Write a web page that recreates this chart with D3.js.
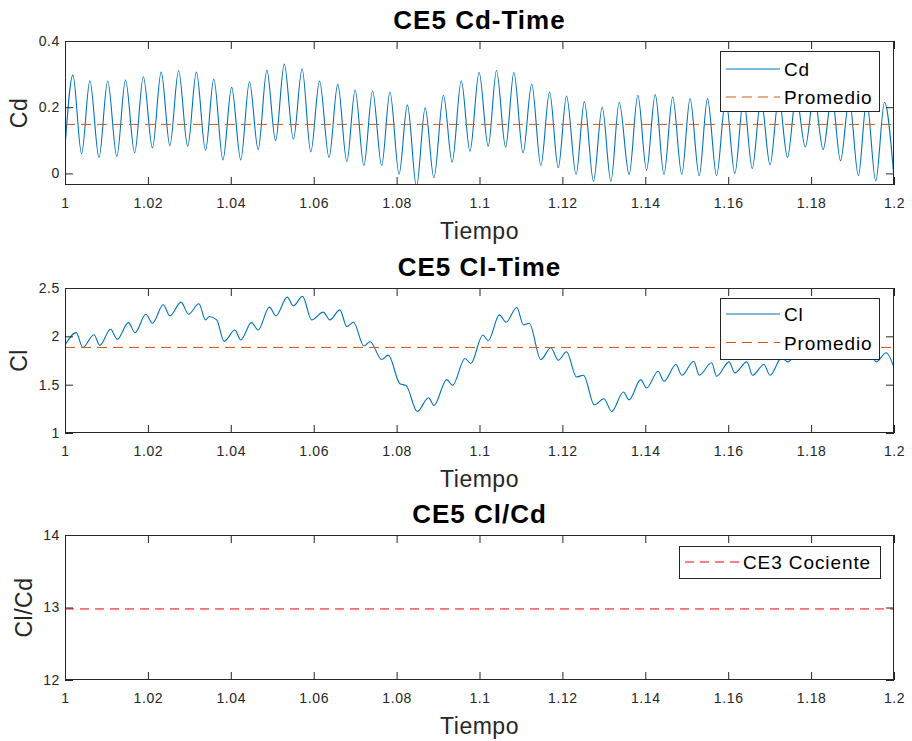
<!DOCTYPE html>
<html><head><meta charset="utf-8">
<script src="https://cdn.jsdelivr.net/npm/d3@7"></script>
<style>
body{margin:0;background:#fff}
svg{display:block}
text{font-family:"Liberation Sans",Arial,Helvetica,sans-serif}
</style>
</head><body>
<svg id="chart" width="912" height="741"></svg>
<script>
// ---------------- DATA ----------------
const xTicks = [1, 1.02, 1.04, 1.06, 1.08, 1.1, 1.12, 1.14, 1.16, 1.18, 1.2];
const xTickLabels = ["1","1.02","1.04","1.06","1.08","1.1","1.12","1.14","1.16","1.18","1.2"];

const cdTicks = [0, 0.2, 0.4];
const cdTickLabels = ["0","0.2","0.4"];
const clTicks = [1, 1.5, 2, 2.5];
const clTickLabels = ["1","1.5","2","2.5"];
const ratioTicks = [12, 13, 14];
const ratioTickLabels = ["12","13","14"];

// Cd: successive crests and troughs
const cdTime = [1.0000,1.0019,1.0040,1.0060,1.0082,1.0103,1.0125,1.0146,1.0168,1.0189,
  1.0211,1.0232,1.0253,1.0274,1.0296,1.0317,1.0339,1.0359,1.0381,1.0402,
  1.0424,1.0445,1.0466,1.0487,1.0508,1.0529,1.0551,1.0572,1.0593,1.0614,
  1.0637,1.0658,1.0680,1.0700,1.0721,1.0742,1.0764,1.0784,1.0806,1.0826,
  1.0848,1.0869,1.0890,1.0913,1.0934,1.0956,1.0977,1.0999,1.1021,1.1041,
  1.1063,1.1083,1.1105,1.1126,1.1148,1.1169,1.1190,1.1210,1.1233,1.1253,
  1.1275,1.1296,1.1317,1.1337,1.1361,1.1382,1.1403,1.1424,1.1445,1.1466,
  1.1488,1.1508,1.1530,1.1550,1.1572,1.1594,1.1616,1.1637,1.1658,1.1679,
  1.1701,1.1722,1.1743,1.1764,1.1786,1.1807,1.1829,1.1850,1.1871,1.1892,
  1.1914,1.1934,1.1956,1.1977,1.2000];
const cdValues = [0.077,0.297,0.059,0.280,0.048,0.279,0.051,0.282,0.062,0.292,
  0.077,0.306,0.084,0.311,0.082,0.306,0.070,0.285,0.041,0.260,
  0.041,0.277,0.072,0.312,0.099,0.330,0.103,0.316,0.065,0.279,
  0.048,0.269,0.036,0.252,0.024,0.249,0.024,0.246,-0.002,0.207,
  -0.040,0.198,-0.013,0.236,0.034,0.280,0.067,0.305,0.082,0.311,
  0.079,0.305,0.062,0.270,0.024,0.246,0.017,0.234,-0.003,0.217,
  -0.024,0.200,-0.024,0.215,-0.003,0.236,0.010,0.238,-0.003,0.231,
  -0.003,0.226,-0.007,0.226,-0.007,0.225,0.000,0.225,0.015,0.225,
  0.026,0.230,0.048,0.235,0.080,0.240,0.072,0.235,0.038,0.225,
  -0.007,0.220,-0.023,0.215,-0.015];
const cdMean = 0.148;

// Cl: ripple crests and troughs
const clTime = [1.0000,1.0027,1.0043,1.0070,1.0084,1.0110,1.0126,1.0153,1.0169,1.0195,
  1.0211,1.0237,1.0253,1.0280,1.0298,1.0323,1.0339,1.0348,1.0366,1.0384,
  1.0410,1.0424,1.0450,1.0466,1.0493,1.0509,1.0536,1.0551,1.0573,1.0595,
  1.0623,1.0639,1.0663,1.0680,1.0696,1.0721,1.0736,1.0764,1.0780,1.0808,
  1.0823,1.0850,1.0877,1.0890,1.0921,1.0935,1.0965,1.0979,1.1008,1.1021,
  1.1048,1.1064,1.1090,1.1106,1.1120,1.1148,1.1172,1.1190,1.1210,1.1234,
  1.1251,1.1277,1.1300,1.1319,1.1347,1.1361,1.1389,1.1403,1.1431,1.1445,
  1.1474,1.1488,1.1517,1.1530,1.1560,1.1572,1.1602,1.1616,1.1645,1.1659,
  1.1686,1.1701,1.1729,1.1743,1.1771,1.1786,1.1813,1.1829,1.1856,1.1871,
  1.1899,1.1914,1.1939,1.1957,1.1981,1.2000];
const clValues = [1.910,2.038,1.885,2.017,1.906,2.073,1.969,2.142,2.038,2.229,
  2.135,2.326,2.212,2.354,2.229,2.337,2.170,2.205,2.170,1.948,
  2.066,1.962,2.142,2.066,2.302,2.212,2.406,2.316,2.413,2.170,
  2.250,2.170,2.274,2.100,2.146,1.900,1.944,1.760,1.806,1.510,
  1.490,1.222,1.365,1.285,1.552,1.493,1.771,1.719,2.014,1.955,
  2.222,2.146,2.299,2.118,2.135,1.760,1.882,1.753,1.840,1.580,
  1.597,1.292,1.354,1.222,1.424,1.344,1.552,1.465,1.639,1.535,
  1.708,1.597,1.743,1.597,1.726,1.587,1.736,1.622,1.736,1.597,
  1.708,1.597,1.780,1.736,1.830,1.760,1.850,1.770,1.860,1.780,
  1.860,1.780,1.850,1.736,1.830,1.677];
const clMean = 1.885;

const ratioValue = 12.98;

// ---------------- DRAWING ----------------
const W = 912, H = 741;
const FONT = '"Liberation Sans", Arial, Helvetica, sans-serif';
const AX = "#262626";
const svg = d3.select("#chart");
svg.append("rect").attr("width", W).attr("height", H).attr("fill", "#fff");

const L = 65, R = 894;
const x = d3.scaleLinear().domain([1, 1.2]).range([L, R]);

function zipSeries(t, v) { return t.map((d, i) => [d, v[i]]); }

function panel(o) {
  const y = d3.scaleLinear().domain(o.yDomain).range([o.bottom, o.top]);
  const g = svg.append("g");
  const cid = "clip" + o.id;
  svg.append("clipPath").attr("id", cid).append("rect")
    .attr("x", L).attr("y", o.top).attr("width", R - L).attr("height", o.bottom - o.top);

  const plot = g.append("g").attr("clip-path", `url(#${cid})`);
  o.series.forEach(s => {
    const line = d3.line().x(d => x(d[0])).y(d => y(d[1])).curve(s.curve || d3.curveLinear);
    plot.append("path").attr("d", line(s.data)).attr("fill", "none")
      .attr("stroke", s.color).attr("stroke-width", s.width)
      .attr("stroke-dasharray", s.dash || null);
  });

  function styleAxis(sel) {
    sel.select(".domain").remove();
    sel.attr("font-size", null).attr("font-family", null);
    sel.selectAll(".tick line").attr("stroke", AX).attr("stroke-width", 1);
    sel.selectAll(".tick text").attr("fill", AX).style("font-family", FONT)
      .style("font-size", "14px").style("letter-spacing", "0.6px");
  }
  // bottom
  g.append("g").attr("transform", `translate(0,${o.bottom})`)
    .call(d3.axisBottom(x).tickValues(xTicks).tickFormat((d, i) => xTickLabels[i]).tickSize(-8).tickPadding(13))
    .call(styleAxis);
  // top
  g.append("g").attr("transform", `translate(0,${o.top})`)
    .call(d3.axisTop(x).tickValues(xTicks).tickFormat("").tickSize(-8))
    .call(styleAxis);
  // left
  g.append("g").attr("transform", `translate(${L},0)`)
    .call(d3.axisLeft(y).tickValues(o.yTicks).tickFormat((d, i) => o.yTickLabels[i]).tickSize(-8).tickPadding(5))
    .call(styleAxis);
  // right
  g.append("g").attr("transform", `translate(${R},0)`)
    .call(d3.axisRight(y).tickValues(o.yTicks).tickFormat("").tickSize(-8))
    .call(styleAxis);

  // box
  g.append("rect").attr("x", L + 0.5).attr("y", o.top + 0.5)
    .attr("width", R - L - 1).attr("height", o.bottom - o.top - 1)
    .attr("fill", "none").attr("stroke", AX).attr("stroke-width", 1);

  // title
  g.append("text").attr("x", (L + R) / 2).attr("y", o.top - 12)
    .attr("text-anchor", "middle").attr("font-weight", "bold")
    .style("font-size", "26px").style("letter-spacing", "1px").attr("fill", "#000")
    .text(o.title);
  // x label
  g.append("text").attr("x", (L + R) / 2).attr("y", o.bottom + 54)
    .attr("text-anchor", "middle").style("font-size", "23px").style("letter-spacing", "0.5px")
    .attr("fill", AX).text("Tiempo");
  // y label
  g.append("text").attr("transform", `translate(${o.ylabelX},${(o.top + o.bottom) / 2}) rotate(-90)`)
    .attr("text-anchor", "middle").style("font-size", "23px").style("letter-spacing", "0.5px")
    .attr("fill", AX).text(o.ylabel);

  // legend
  const lg = o.legend;
  const leg = g.append("g");
  leg.append("rect").attr("x", lg.x + 0.5).attr("y", lg.y + 0.5).attr("width", lg.w).attr("height", lg.h)
    .attr("fill", "#fff").attr("stroke", AX).attr("stroke-width", 1);
  lg.items.forEach((it, i) => {
    const cy = lg.y + lg.first + i * lg.step;
    leg.append("line").attr("x1", lg.x + lg.lineX0).attr("x2", lg.x + lg.lineX1)
      .attr("y1", cy).attr("y2", cy).attr("stroke", it.color).attr("stroke-width", 1)
      .attr("stroke-dasharray", it.dash || null);
    leg.append("text").attr("x", lg.x + lg.textX).attr("y", cy + 7)
      .style("font-size", "19px").style("letter-spacing", "0.9px").attr("fill", "#000").text(it.label);
  });
}

const blue = "#0072BD", orange = "#D95319", red = "#FF0000";

panel({
  id: "cd", top: 41, bottom: 185, yDomain: [-0.035, 0.4],
  yTicks: cdTicks, yTickLabels: cdTickLabels,
  title: "CE5 Cd-Time", ylabel: "Cd", ylabelX: 27,
  series: [
    { data: zipSeries(cdTime, cdValues), color: blue, width: 1.1, curve: d3.curveMonotoneX },
    { data: [[xTicks[0], cdMean], [xTicks[xTicks.length - 1], cdMean]], color: orange, width: 1, dash: "10,6" }
  ],
  legend: { x: 720, y: 51, w: 159, h: 60, first: 18, step: 28, lineX0: 6, lineX1: 60, textX: 64,
    items: [{ label: "Cd", color: blue }, { label: "Promedio", color: orange, dash: "10,6" }] }
});

panel({
  id: "cl", top: 288, bottom: 433, yDomain: [1, 2.5],
  yTicks: clTicks, yTickLabels: clTickLabels,
  title: "CE5 Cl-Time", ylabel: "Cl", ylabelX: 27,
  series: [
    { data: zipSeries(clTime, clValues), color: blue, width: 1.1, curve: d3.curveMonotoneX },
    { data: [[xTicks[0], clMean], [xTicks[xTicks.length - 1], clMean]], color: orange, width: 1, dash: "10,6" }
  ],
  legend: { x: 720, y: 298, w: 159, h: 61, first: 16, step: 28.5, lineX0: 6, lineX1: 60, textX: 64,
    items: [{ label: "Cl", color: blue }, { label: "Promedio", color: orange, dash: "10,6" }] }
});

panel({
  id: "ratio", top: 535, bottom: 680, yDomain: [12, 14],
  yTicks: ratioTicks, yTickLabels: ratioTickLabels,
  title: "CE5 Cl/Cd", ylabel: "Cl/Cd", ylabelX: 32,
  series: [
    { data: [[xTicks[0], ratioValue], [xTicks[xTicks.length - 1], ratioValue]], color: red, width: 1, dash: "9,6" }
  ],
  legend: { x: 679, y: 546, w: 201, h: 32, first: 16, step: 28, lineX0: 6, lineX1: 61, textX: 64,
    items: [{ label: "CE3 Cociente", color: red, dash: "9,6" }] }
});
</script>
</body></html>
